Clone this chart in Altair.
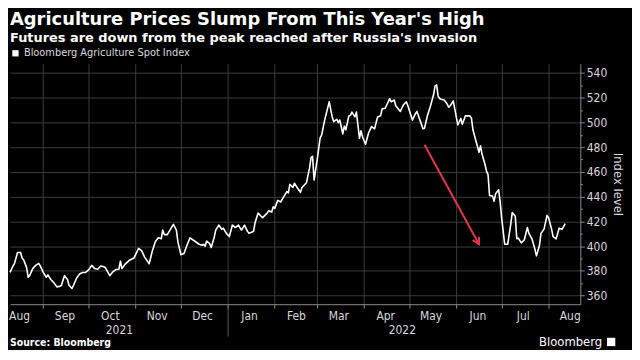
import math
import altair as alt
import pandas as pd

# ---------------- data ----------------
SERIES = "Bloomberg Agriculture Spot Index"

dates = [
    "2021-08-10", "2021-08-12", "2021-08-13", "2021-08-15", "2021-08-17", "2021-08-18",
    "2021-08-19", "2021-08-21", "2021-08-22", "2021-08-23", "2021-08-25", "2021-08-27",
    "2021-08-29", "2021-08-30", "2021-09-01", "2021-09-03", "2021-09-04", "2021-09-06",
    "2021-09-08", "2021-09-10", "2021-09-12", "2021-09-13", "2021-09-15", "2021-09-17",
    "2021-09-18", "2021-09-20", "2021-09-21", "2021-09-23", "2021-09-25", "2021-09-27",
    "2021-09-29", "2021-10-01", "2021-10-03", "2021-10-05", "2021-10-07", "2021-10-09",
    "2021-10-11", "2021-10-12", "2021-10-15", "2021-10-17", "2021-10-19", "2021-10-21",
    "2021-10-22", "2021-10-23", "2021-10-25", "2021-10-28", "2021-10-31", "2021-11-03",
    "2021-11-05", "2021-11-07", "2021-11-10", "2021-11-12", "2021-11-14", "2021-11-16",
    "2021-11-18", "2021-11-19", "2021-11-20", "2021-11-22", "2021-11-26", "2021-11-28",
    "2021-11-29", "2021-12-01", "2021-12-03", "2021-12-05", "2021-12-07", "2021-12-10",
    "2021-12-13", "2021-12-15", "2021-12-16", "2021-12-17", "2021-12-18", "2021-12-20",
    "2021-12-21", "2021-12-23", "2021-12-24", "2021-12-26", "2021-12-28", "2021-12-29",
    "2021-12-31", "2022-01-02", "2022-01-04", "2022-01-06", "2022-01-08", "2022-01-10",
    "2022-01-12", "2022-01-14", "2022-01-15", "2022-01-18", "2022-01-19", "2022-01-21",
    "2022-01-23", "2022-01-24", "2022-01-27", "2022-01-28", "2022-01-30", "2022-01-31",
    "2022-02-01", "2022-02-03", "2022-02-05", "2022-02-06", "2022-02-09", "2022-02-10",
    "2022-02-11", "2022-02-13", "2022-02-14", "2022-02-16", "2022-02-18", "2022-02-19",
    "2022-02-22", "2022-02-24", "2022-02-25", "2022-02-26", "2022-02-27", "2022-03-01",
    "2022-03-03", "2022-03-04", "2022-03-06", "2022-03-09", "2022-03-11", "2022-03-12",
    "2022-03-14", "2022-03-15", "2022-03-16", "2022-03-18", "2022-03-19", "2022-03-20",
    "2022-03-22", "2022-03-23", "2022-03-24", "2022-03-26", "2022-03-27", "2022-03-29",
    "2022-03-30", "2022-03-31", "2022-04-02", "2022-04-04", "2022-04-06", "2022-04-08",
    "2022-04-10", "2022-04-12", "2022-04-13", "2022-04-15", "2022-04-18", "2022-04-19",
    "2022-04-21", "2022-04-22", "2022-04-25", "2022-04-27", "2022-04-29", "2022-04-30",
    "2022-05-03", "2022-05-05", "2022-05-06", "2022-05-08", "2022-05-10", "2022-05-11",
    "2022-05-13", "2022-05-15", "2022-05-17", "2022-05-18", "2022-05-19", "2022-05-20",
    "2022-05-21", "2022-05-22", "2022-05-24", "2022-05-26", "2022-05-27", "2022-05-28",
    "2022-05-30", "2022-05-31", "2022-06-02", "2022-06-04", "2022-06-05", "2022-06-07",
    "2022-06-10", "2022-06-11", "2022-06-12", "2022-06-14", "2022-06-16", "2022-06-17",
    "2022-06-18", "2022-06-20", "2022-06-21", "2022-06-22", "2022-06-23", "2022-06-25",
    "2022-06-26", "2022-06-27", "2022-06-29", "2022-06-30", "2022-07-01", "2022-07-03",
    "2022-07-05", "2022-07-07", "2022-07-08", "2022-07-10", "2022-07-11", "2022-07-12",
    "2022-07-14", "2022-07-16", "2022-07-18", "2022-07-19", "2022-07-21", "2022-07-23",
    "2022-07-24", "2022-07-26", "2022-07-27", "2022-07-29", "2022-07-31", "2022-08-01",
    "2022-08-03", "2022-08-04", "2022-08-06", "2022-08-08", "2022-08-10", "2022-08-12",
]

values = [
    378.7, 383.9, 386.0, 394.8, 394.8, 390.4,
    389.0, 382.6, 374.8, 376.1, 381.8, 384.4,
    386.0, 384.0, 378.7, 374.8, 376.6, 373.0,
    370.3, 367.0, 367.5, 368.3, 376.1, 373.0,
    368.3, 365.7, 368.3, 374.0, 377.4, 378.7,
    378.7, 380.8, 384.4, 381.8, 381.3, 383.9,
    383.3, 382.6, 376.1, 379.2, 381.0, 381.3,
    387.8, 381.8, 385.2, 388.6, 390.4, 398.1,
    396.3, 391.1, 385.7, 395.6, 403.4, 406.7,
    406.0, 412.9, 409.3, 409.3, 417.6, 412.9,
    403.4, 393.0, 394.0, 400.7, 406.7, 404.1,
    401.5, 400.7, 401.5, 399.9, 404.1, 402.0,
    398.9, 407.2, 412.9, 417.0, 413.6, 414.5,
    410.3, 407.7, 417.0, 415.0, 417.0, 412.9,
    417.0, 411.9, 410.3, 412.0, 418.9, 426.7,
    424.1, 423.0, 426.7, 428.5, 427.5, 431.8,
    430.5, 437.0, 435.7, 438.0, 444.0, 443.0,
    450.0, 447.4, 450.8, 447.0, 443.5, 447.4,
    451.3, 463.0, 471.5, 472.6, 453.4, 469.4,
    487.6, 489.7, 501.9, 516.7, 504.5, 500.6,
    502.6, 499.8, 502.0, 490.7, 497.0, 494.1,
    505.3, 505.8, 508.4, 504.5, 508.4, 487.1,
    493.3, 488.5, 482.4, 491.5, 496.7, 494.9,
    504.5, 505.5, 511.0, 511.5, 519.3, 516.7,
    518.2, 513.5, 508.9, 514.1, 516.7, 513.5,
    501.9, 507.1, 508.9, 501.9, 494.9, 495.4,
    505.8, 513.5, 522.6, 529.6, 530.4, 521.3,
    519.3, 518.8, 518.2, 514.9, 512.3, 513.5,
    517.4, 511.0, 498.0, 503.2, 498.5, 505.3,
    505.3, 503.7, 494.1, 485.0, 475.9, 481.1,
    474.6, 466.0, 460.4, 457.8, 440.9, 440.4,
    436.3, 442.3, 445.6, 435.7, 422.8, 401.5,
    401.5, 417.6, 427.2, 424.1, 405.9, 406.5,
    402.6, 405.1, 415.0, 410.3, 405.9, 397.4,
    392.1, 400.7, 410.3, 413.7, 424.8, 423.0,
    413.7, 407.7, 405.9, 414.5, 413.7, 418.1,
]

x_domain = ["2021-08-10", "2022-08-22"]
y_domain = [353, 547.5]
y_ticks = [360, 380, 400, 420, 440, 460, 480, 500, 520, 540]
y_minor_ticks = [370, 390, 410, 430, 450, 470, 490, 510, 530]
month_starts = [
    "2021-09-01", "2021-10-01", "2021-11-01", "2021-12-01", "2022-01-01", "2022-02-01",
    "2022-03-01", "2022-04-01", "2022-05-01", "2022-06-01", "2022-07-01", "2022-08-01",
]
month_label_days = [
    "2021-08-16", "2021-09-15", "2021-10-15", "2021-11-15", "2021-12-15", "2022-01-15",
    "2022-02-15", "2022-03-15", "2022-04-15", "2022-05-15", "2022-06-15", "2022-07-15",
    "2022-08-15",
]
year_label_days = ["2021-10-21", "2022-04-26"]
year_break = ["2022-01-01"]
arrow_start = ["2022-05-11", 482.0]
arrow_end = ["2022-06-16", 401.5]

title_text = "Agriculture Prices Slump From This Year's High"
subtitle_text = "Futures are down from the peak reached after Russia's invasion"
source_text = "Source: Bloomberg"
brand_text = "Bloomberg"
y_title = "Index level"

# ---------------- layout / style ----------------
W, H = 574, 242
GRID = "#3b3b3b"
AXIS = "#8a8a8a"
LABEL = "#d9d9d9"
RED = "#e3354b"
FONT = "DejaVu Sans Condensed"


def dt(s):
    y, m, d = (int(p) for p in s.split("-"))
    return alt.DateTime(year=y, month=m, date=d)


x_scale = alt.Scale(domain=[dt(x_domain[0]), dt(x_domain[1])])
y_scale = alt.Scale(domain=y_domain, nice=False, zero=False)

df = pd.DataFrame({"date": pd.to_datetime(dates), "value": values, "series": SERIES})

line = alt.Chart(df).mark_line(strokeWidth=1.6, strokeJoin="round").encode(
    x=alt.X(
        "date:T",
        scale=x_scale,
        axis=alt.Axis(
            orient="bottom", values=[dt(s) for s in month_starts], labels=False,
            grid=True, gridColor=GRID, gridWidth=1, ticks=True, tickSize=4,
            tickColor=AXIS, domain=True, domainColor=AXIS, title=None,
        ),
    ),
    y=alt.Y(
        "value:Q",
        scale=y_scale,
        axis=alt.Axis(
            orient="right", values=y_ticks, grid=True, gridColor=GRID, tickSize=4,
            tickColor=AXIS, domainColor=AXIS, labelColor=LABEL, labelFontSize=12,
            labelFont=FONT, labelPadding=2, title=y_title, titleAngle=90,
            titleColor=LABEL, titleFontSize=13, titleFontWeight="normal",
            titleFont=FONT, titlePadding=4, titleBaseline="bottom",
        ),
    ),
    color=alt.Color(
        "series:N",
        scale=alt.Scale(range=["#ffffff"]),
        legend=alt.Legend(
            title=None, orient="none", legendX=0, legendY=-16, symbolType="square",
            symbolSize=40, symbolFillColor="#ffffff", symbolStrokeColor="#ffffff",
            symbolStrokeWidth=0, labelColor=LABEL, labelFontSize=11, labelFont=FONT,
            labelLimit=400, padding=0, labelOffset=3,
        ),
    ),
)

# minor ticks on the right axis
minor_df = pd.DataFrame({"v": y_minor_ticks})
minor = alt.Chart(minor_df).mark_point(opacity=0).encode(
    y=alt.Y(
        "v:Q", scale=y_scale,
        axis=alt.Axis(orient="right", values=y_minor_ticks, labels=False, grid=False,
                      domain=False, tickSize=2, tickColor=AXIS, title=None),
    )
)

# month labels centred in each month
mdf = pd.DataFrame({"d": pd.to_datetime(month_label_days)})
month_labels = alt.Chart(mdf).mark_point(opacity=0).encode(
    x=alt.X(
        "d:T", scale=x_scale,
        axis=alt.Axis(orient="bottom", values=[dt(s) for s in month_label_days],
                      format="%b", ticks=False, grid=False, domain=False,
                      labelPadding=6, labelColor=LABEL, labelFontSize=12, labelFont=FONT,
                      labelOverlap=False, labelFlush=False, title=None),
    )
)

# year labels
ydf = pd.DataFrame({"d": pd.to_datetime(year_label_days)})
year_labels = alt.Chart(ydf).mark_point(opacity=0).encode(
    x=alt.X(
        "d:T", scale=x_scale,
        axis=alt.Axis(orient="bottom", values=[dt(s) for s in year_label_days],
                      format="%Y", ticks=False, grid=False, domain=False,
                      labelPadding=20, labelColor=LABEL, labelFontSize=12, labelFont=FONT,
                      labelOverlap=False, labelFlush=False, title=None),
    )
)

# year separator
bdf = pd.DataFrame({"d": pd.to_datetime(year_break)})
year_sep = alt.Chart(bdf).mark_point(opacity=0).encode(
    x=alt.X(
        "d:T", scale=x_scale,
        axis=alt.Axis(orient="bottom", values=[dt(s) for s in year_break], labels=False,
                      ticks=True, tickSize=32, tickColor="#5a5a5a", grid=False,
                      domain=False, title=None),
    )
)

# red arrow
adf = pd.DataFrame({
    "d1": pd.to_datetime([arrow_start[0]]), "v1": [arrow_start[1]],
    "d2": pd.to_datetime([arrow_end[0]]), "v2": [arrow_end[1]],
})
arrow = alt.Chart(adf).mark_rule(color=RED, strokeWidth=2).encode(
    x=alt.X("d1:T", scale=x_scale, axis=None),
    y=alt.Y("v1:Q", scale=y_scale, axis=None),
    x2="d2:T",
    y2="v2:Q",
)

span_days = (pd.Timestamp(x_domain[1]) - pd.Timestamp(x_domain[0])).days
dx = (pd.Timestamp(arrow_end[0]) - pd.Timestamp(arrow_start[0])).days / span_days * W
dy = (arrow_start[1] - arrow_end[1]) / (y_domain[1] - y_domain[0]) * H
head_angle = (360 - math.degrees(math.atan2(dx, dy))) % 360

head = alt.Chart(adf).mark_point(
    shape="M-0.55,-1L0,0L0.55,-1", filled=False, color=RED, strokeWidth=2,
    size=180, angle=head_angle, opacity=1,
).encode(
    x=alt.X("d2:T", scale=x_scale, axis=None),
    y=alt.Y("v2:Q", scale=y_scale, axis=None),
)

# footer texts
src = alt.Chart(pd.DataFrame({"t": [source_text]})).mark_text(
    align="left", baseline="bottom", color="#ffffff", fontSize=10.5,
    fontWeight="bold", font=FONT,
).encode(text="t:N", x=alt.value(0), y=alt.value(H + 44))

brand = alt.Chart(pd.DataFrame({"t": [brand_text]})).mark_text(
    align="right", baseline="bottom", color="#ffffff", fontSize=13, font=FONT,
).encode(text="t:N", x=alt.value(W + 22), y=alt.value(H + 45))

brand_icon = alt.Chart(pd.DataFrame({"t": [brand_text]})).mark_square(
    color="#ffffff", size=70, opacity=1,
).encode(x=alt.value(W + 31), y=alt.value(H + 38))

chart = (
    alt.layer(line, minor, month_labels, year_labels, year_sep, arrow, head, src, brand,
              brand_icon)
    .resolve_axis(x="independent", y="independent")
    .properties(
        width=W,
        height=H,
        padding={"left": 0, "top": 2, "right": 8, "bottom": 0},
        title=alt.TitleParams(
            text=title_text, subtitle=subtitle_text, anchor="start", frame="group",
            color="#ffffff", fontSize=18, fontWeight="bold", font="DejaVu Sans",
            subtitleColor="#ffffff", subtitleFontSize=13, subtitleFontWeight="bold",
            subtitleFont="DejaVu Sans", subtitlePadding=3, offset=3,
        ),
    )
    .configure(background="#000000")
    .configure_view(stroke=None)
)

chart.save("out.html", embed_options={"renderer": "svg", "actions": False})
